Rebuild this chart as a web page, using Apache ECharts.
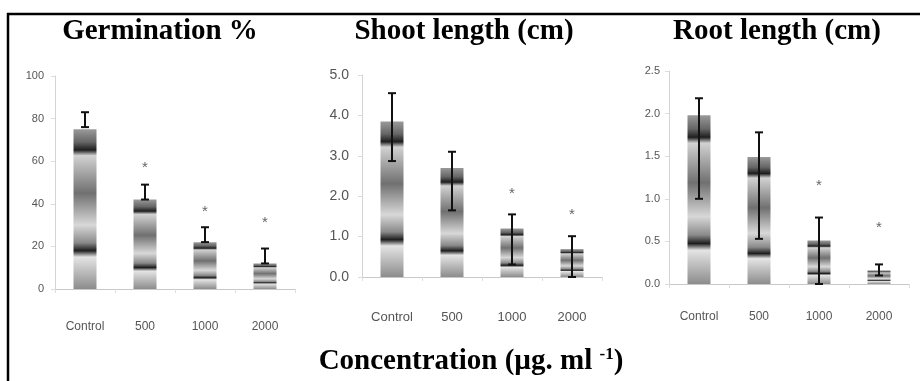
<!DOCTYPE html>
<html><head><meta charset="utf-8">
<script src="https://cdn.jsdelivr.net/npm/echarts@6/dist/echarts.min.js"></script>
<style>html,body{margin:0;padding:0;background:#fff}#c{width:920px;height:381px}</style>
</head><body><div id="c"></div>
<script>
const categories = ['Control', '500', '1000', '2000'];

const germBar = [75, 42, 22, 12];
const germErrLow = [76, 42, 22, 12];
const germErrHigh = [83, 49, 29, 19];
const germStar = [null, 57, 36, 31];

const shootBar = [3.85, 2.7, 1.2, 0.69];
const shootErrLow = [2.87, 1.65, 0.31, 0.0];
const shootErrHigh = [4.55, 3.1, 1.55, 1.01];
const shootStar = [null, null, 2.05, 1.55];

const rootBar = [1.98, 1.49, 0.51, 0.16];
const rootErrLow = [1.0, 0.53, 0.0, 0.1];
const rootErrHigh = [2.18, 1.78, 0.78, 0.23];
const rootStar = [null, null, 1.15, 0.66];

const panelTitles = ['Germination %', 'Shoot length (cm)', 'Root length (cm)'];
const yMax = [100, 5, 2.5];
const yStep = [20, 1, 0.5];
const yDecimals = [0, 1, 1];

const sans = "'Liberation Sans','DejaVu Sans',sans-serif";
const serif = "'Liberation Serif','Times New Roman',serif";

function barGradient() {
  return new echarts.graphic.LinearGradient(0, 0, 0, 1, [
    {offset: 0, color: '#9a9a9a'},
    {offset: 0.08, color: '#666'},
    {offset: 0.13, color: '#1e1e1e'},
    {offset: 0.165, color: '#d2d2d2'},
    {offset: 0.4, color: '#707070'},
    {offset: 0.6, color: '#d8d8d8'},
    {offset: 0.71, color: '#8a8a8a'},
    {offset: 0.76, color: '#1e1e1e'},
    {offset: 0.8, color: '#e4e4e4'},
    {offset: 1, color: '#8c8c8c'}
  ]);
}

function errRender(params, api) {
  const i = api.value(0);
  const lo = api.coord([i, api.value(1)]);
  const hi = api.coord([i, api.value(2)]);
  const x = lo[0], cw = 4;
  const st = {stroke: '#111', lineWidth: 2};
  return {type: 'group', children: [
    {type: 'line', shape: {x1: x, y1: lo[1], x2: x, y2: hi[1]}, style: st},
    {type: 'line', shape: {x1: x - cw, y1: hi[1], x2: x + cw, y2: hi[1]}, style: st},
    {type: 'line', shape: {x1: x - cw, y1: lo[1], x2: x + cw, y2: lo[1]}, style: st}
  ]};
}

function starRender(params, api) {
  const p = api.coord([api.value(0), api.value(1)]);
  return {type: 'text', x: p[0], y: p[1],
    style: {text: '*', fill: '#666', font: '15px ' + sans, align: 'center', verticalAlign: 'middle'}};
}

const grids = [
  {left: 55, top: 76, width: 240, height: 213},
  {left: 362, top: 75, width: 240, height: 202},
  {left: 669, top: 71, width: 240, height: 213}
];
const xLabelSize = [12, 13, 12];
const yLabelSize = [11, 14, 11];
const xMargin = [32, 34, 27];
const yMargin = [11, 13, 9];

const bars = [germBar, shootBar, rootBar];
const lows = [germErrLow, shootErrLow, rootErrLow];
const highs = [germErrHigh, shootErrHigh, rootErrHigh];
const stars = [germStar, shootStar, rootStar];

const series = [];
for (let k = 0; k < 3; k++) {
  series.push({type: 'bar', xAxisIndex: k, yAxisIndex: k, data: bars[k], barWidth: 23,
    itemStyle: {color: barGradient()}, z: 2, silent: true});
  series.push({type: 'custom', xAxisIndex: k, yAxisIndex: k, renderItem: errRender, z: 3, silent: true,
    encode: {x: 0, y: [1, 2]},
    data: categories.map((c, i) => [i, lows[k][i], highs[k][i]])});
  series.push({type: 'custom', xAxisIndex: k, yAxisIndex: k, renderItem: starRender, z: 3, silent: true,
    encode: {x: 0, y: 1},
    data: categories.map((c, i) => [i, stars[k][i]]).filter(d => d[1] != null)});
}

const option = {
  animation: false,
  backgroundColor: '#fff',
  grid: grids,
  xAxis: grids.map((g, k) => ({
    type: 'category', gridIndex: k, data: categories,
    axisLine: {lineStyle: {color: '#c8c8c8', width: 1}},
    axisTick: {show: true, length: 4, lineStyle: {color: '#ddd'}},
    axisLabel: {interval: 0, color: '#555', fontFamily: sans, fontSize: xLabelSize[k], margin: xMargin[k]}
  })),
  yAxis: grids.map((g, k) => ({
    type: 'value', gridIndex: k, min: 0, max: yMax[k], interval: yStep[k],
    splitLine: {show: false},
    axisLine: {show: true, lineStyle: {color: '#d4d4d4'}},
    axisTick: {show: true, length: 4, lineStyle: {color: '#ddd'}},
    axisLabel: {color: '#555', fontFamily: sans, fontSize: yLabelSize[k], margin: yMargin[k],
      formatter: v => v.toFixed(yDecimals[k])}
  })),
  series: series,
  graphic: [
    {type: 'line', shape: {x1: 7, y1: 14, x2: 920, y2: 14}, style: {stroke: '#000', lineWidth: 2.5}},
    {type: 'line', shape: {x1: 8, y1: 13, x2: 8, y2: 381}, style: {stroke: '#000', lineWidth: 2.5}},
    {type: 'text', x: 160, y: 32, style: {text: panelTitles[0], font: 'bold 29px ' + serif, fill: '#000', align: 'center', verticalAlign: 'middle'}},
    {type: 'text', x: 464, y: 32, style: {text: panelTitles[1], font: 'bold 29px ' + serif, fill: '#000', align: 'center', verticalAlign: 'middle'}},
    {type: 'text', x: 777, y: 32, style: {text: panelTitles[2], font: 'bold 29px ' + serif, fill: '#000', align: 'center', verticalAlign: 'middle'}},
    {type: 'text', x: 471, y: 362, style: {
      text: '{a|Concentration (µg. ml }{s|-1}{a|)}',
      align: 'center', verticalAlign: 'middle',
      rich: {
        a: {font: 'bold 29px ' + serif, fill: '#000', lineHeight: 32},
        s: {font: 'bold 17px ' + serif, fill: '#000', verticalAlign: 'top', lineHeight: 20}
      }
    }}
  ]
};

const chart = echarts.init(document.getElementById('c'), null, {renderer: 'canvas'});
chart.setOption(option);
</script>
</body></html>
